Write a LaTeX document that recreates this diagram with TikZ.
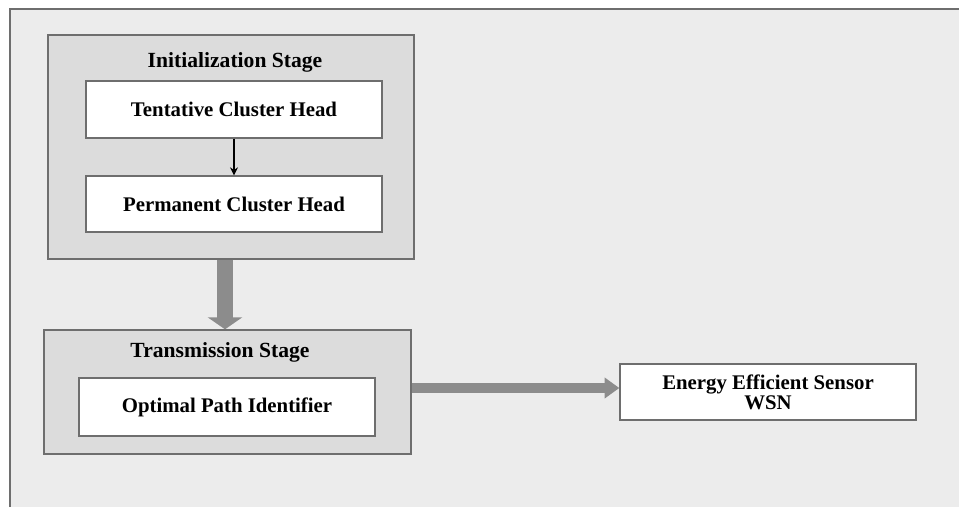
\documentclass[tikz,border=0pt]{standalone}
\usepackage{fontspec}
\setmainfont{Liberation Serif}
\usetikzlibrary{arrows.meta}
\definecolor{pagegray}{HTML}{ECECEC}
\definecolor{stagegray}{HTML}{DCDCDC}
\definecolor{framegray}{HTML}{6E6E6E}
\definecolor{arrowgray}{HTML}{8C8C8C}
\tikzset{
  stagebox/.style={draw=framegray,line width=1pt,fill=stagegray,inner sep=0pt},
  stepbox/.style={draw=framegray,line width=1pt,fill=white,inner sep=0pt,
    font=\fontsize{15.6}{13.5}\selectfont\bfseries,align=center},
  stagetitle/.style={font=\fontsize{16.2}{19}\selectfont\bfseries,inner sep=0pt}
}

\begin{document}
\begin{tikzpicture}[x=0.75pt,y=-0.75pt]
  \useasboundingbox (0,0) rectangle (959,507);
  \fill[pagegray] (10,9) rectangle (959,507);
  \draw[framegray,line width=1.5pt] (10,507) -- (10,9) -- (959,9);
   \node[stagebox,minimum width=366*0.75pt,minimum height=224*0.75pt] (init) at (231,147) {};
   \node[stagebox,minimum width=367*0.75pt,minimum height=124*0.75pt] (trans) at (227.5,392) {};
  \node[stagetitle] (inittitle) at (235,62) {Initialization Stage};
  \node[stagetitle] (transtitle) at (220,352) {Transmission Stage};
  \node[stepbox,minimum width=296*0.75pt,minimum height=57*0.75pt] (tentative) at (234,109.5) {Tentative Cluster Head};
  \node[stepbox,minimum width=296*0.75pt,minimum height=56*0.75pt] (permanent) at (234,204) {Permanent Cluster Head};
  \node[stepbox,minimum width=296*0.75pt,minimum height=58*0.75pt] (optimal) at (227,407) {Optimal Path Identifier};
  \node[stepbox,minimum width=296*0.75pt,minimum height=56*0.75pt] (energy) at (768,392) {Energy Efficient Sensor\\WSN};
  \draw[-{Stealth[length=6pt,width=6pt]},line width=0.8pt] (tentative) -- (permanent);
  % thick gray arrows between the stages
  \draw[arrowgray,line width=12pt,-{Triangle[length=9pt,width=25.5pt]}]
    ([xshift=-4.5pt]init.south) -- ([xshift=-4.5pt]init.south |- trans.north);
  \draw[arrowgray,line width=7.5pt,-{Triangle[length=11pt,width=15pt]}]
    ([yshift=3pt]trans.east) -- ([yshift=3pt]energy.west);
 \end{tikzpicture}
\end{document}
